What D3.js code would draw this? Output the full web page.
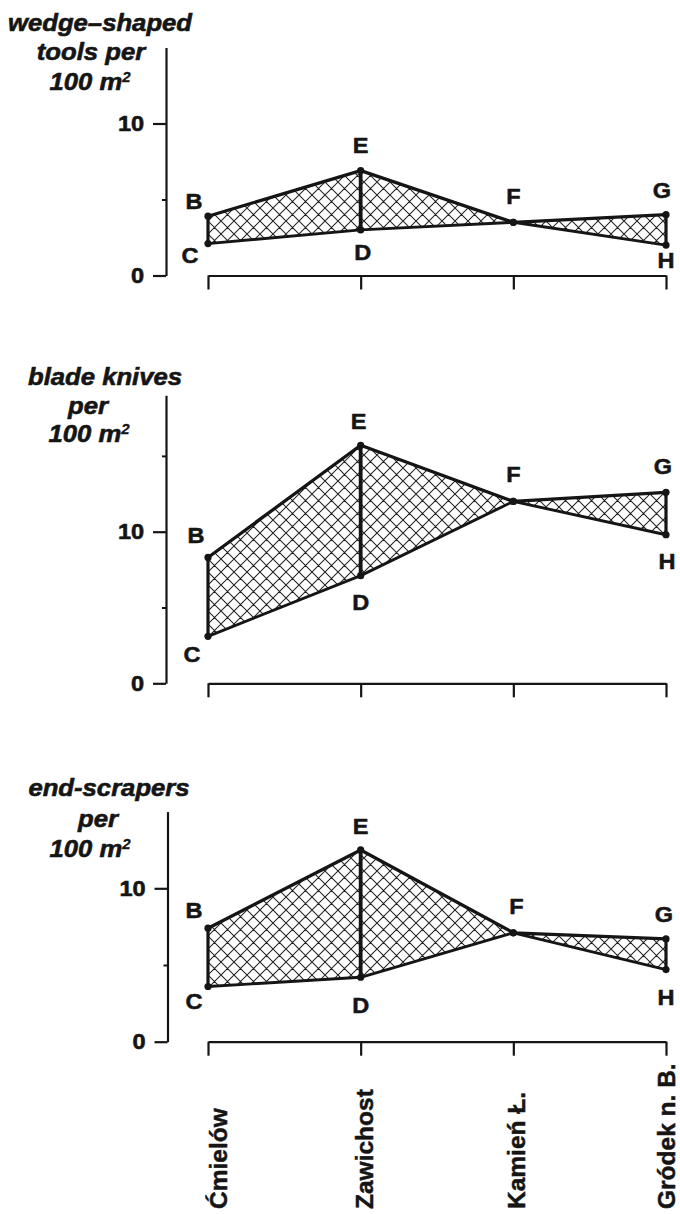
<!DOCTYPE html>
<html>
<head>
<meta charset="utf-8">
<script src="https://cdn.jsdelivr.net/npm/d3@7/dist/d3.min.js"></script>
<style>
  html, body { margin: 0; padding: 0; background: #fff; }
  svg { display: block; }
</style>
</head>
<body>
<div id="chart"></div>
<script>
// ---------------- data ----------------
const categories = ["Ćmielów", "Zawichost", "Kamień Ł.", "Gródek n. B."];

const upperLetters = ["B", "E", "F", "G"];
const lowerLetters = ["C", "D", "", "H"];

// wedge-shaped tools per 100 m2
const wedgeUpper = [3.9, 6.9, 3.5, 4.0];
const wedgeLower = [2.1, 3.0, 3.5, 2.0];
// blade knives per 100 m2
const knivesUpper = [8.3, 15.7, 12.0, 12.6];
const knivesLower = [3.1, 7.1, 12.0, 9.8];
// end-scrapers per 100 m2
const scrapersUpper = [7.4, 12.5, 7.1, 6.7];
const scrapersLower = [3.6, 4.2, 7.1, 4.7];

const wedgeTitle = ["wedge–shaped", "tools per", "100 m"];
const knivesTitle = ["blade knives", "per", "100 m"];
const scrapersTitle = ["end-scrapers", "per", "100 m"];

const majorTicks = [0, 10];
const minorTicks = [5, 15];

// ---------------- layout ----------------
const W = 680, H = 1214;
const FONT = "'Liberation Sans', Arial, Helvetica, sans-serif";
const SX = 1.07; // horizontal stretch of the original lettering
const INK = "#151515";

const panels = [
  { title: wedgeTitle, upper: wedgeUpper, lower: wedgeLower,
    zeroY: 275.5, max: 15, ppu: 15.2, axisX: 166,
    titleX: [100, 91, 90], titleY: [31, 60, 90],
    off: { B: [-14, -15], C: [-18, 12], E: [0, -25], D: [2, 22], F: [0, -26], G: [-4, -24], H: [0, 15] } },
  { title: knivesTitle, upper: knivesUpper, lower: knivesLower,
    zeroY: 683.3, max: 19, ppu: 15.16, axisX: 166,
    titleX: [105, 88, 89], titleY: [385, 414, 442],
    off: { B: [-12, -22], C: [-16, 18], E: [-2, -24], D: [0, 27], F: [0, -27], G: [-3, -26], H: [1, 27] } },
  { title: scrapersTitle, upper: scrapersUpper, lower: scrapersLower,
    zeroY: 1041.7, max: 15, ppu: 15.34, axisX: 167.5,
    titleX: [109, 98, 90], titleY: [796, 827, 857],
    off: { B: [-14, -18], C: [-14, 15], E: [0, -24], D: [0, 28], F: [3, -27], G: [-2, -25], H: [0, 28] } }
];

const svg = d3.select("#chart").append("svg")
  .attr("width", W).attr("height", H)
  .attr("viewBox", `0 0 ${W} ${H}`);

svg.append("rect").attr("width", W).attr("height", H).attr("fill", "#fff");

// cross-hatch pattern
const defs = svg.append("defs");
const P = 13;
const pat = defs.append("pattern")
  .attr("id", "xhatch")
  .attr("patternUnits", "userSpaceOnUse")
  .attr("width", P).attr("height", P);
pat.append("rect").attr("width", P).attr("height", P).attr("fill", "#fff");
pat.append("path")
  .attr("d", `M0,0L${P},${P}M${P},0L0,${P}M${-P/2},${P/2}L${P/2},${P*1.5}M${P/2},${-P/2}L${P*1.5},${P/2}M${P/2},${-P/2}L${-P/2},${P/2}M${P*1.5},${P/2}L${P/2},${P*1.5}`)
  .attr("stroke", "#222").attr("stroke-width", 1.05).attr("fill", "none");

const x = d3.scalePoint().domain(categories).range([208, 666]);

function inky(t, w) {
  return t.attr("stroke", INK).attr("stroke-width", w).attr("stroke-linejoin", "round")
    .attr("paint-order", "stroke");
}

function stretchedText(g, px, py, str, size, opts = {}) {
  const t = g.append("text")
    .attr("transform", `translate(${px},${py}) scale(${SX},1)`)
    .attr("font-family", FONT)
    .attr("font-weight", "bold")
    .attr("font-size", size)
    .attr("fill", INK)
    .attr("text-anchor", opts.anchor || "middle");
  if (opts.italic) t.attr("font-style", "italic");
  if (opts.central) t.attr("dominant-baseline", "central");
  inky(t, opts.ink || 0.5);
  t.text(str);
  return t;
}

panels.forEach(p => {
  const g = svg.append("g");
  const y = d3.scaleLinear()
    .domain([0, p.max])
    .range([p.zeroY, p.zeroY - p.max * p.ppu]);

  // ----- title -----
  p.title.forEach((line, i) => {
    const t = stretchedText(g, p.titleX[i], p.titleY[i], line, 24, { italic: true, ink: 0.6 });
    if (i === 2) {
      t.append("tspan").attr("font-size", 14).attr("dy", -8).attr("stroke-width", 0.3).text("2");
    }
  });

  // ----- y axis -----
  const yMajor = d3.axisLeft(y).tickValues(majorTicks).tickSize(13).tickSizeOuter(0).tickPadding(7.5);
  const ga = g.append("g").attr("transform", `translate(${p.axisX},0)`).call(yMajor);
  ga.select(".domain").attr("stroke", INK).attr("stroke-width", 2.2);
  ga.selectAll(".tick line").attr("stroke", INK).attr("stroke-width", 2.2);
  const tt = ga.selectAll(".tick text")
    .attr("font-family", FONT).attr("font-weight", "bold").attr("font-size", 22)
    .attr("fill", INK)
    .attr("transform", `scale(${SX},1)`);
  inky(tt, 0.6);

  const yMinor = d3.axisLeft(y).tickValues(minorTicks.filter(v => v < p.max)).tickSize(4).tickSizeOuter(0).tickFormat("");
  const gm = g.append("g").attr("transform", `translate(${p.axisX},0)`).call(yMinor);
  gm.select(".domain").remove();
  gm.selectAll(".tick line").attr("stroke", INK).attr("stroke-width", 2);

  // ----- x axis -----
  const xAxis = d3.axisBottom(x).tickSize(14).tickSizeOuter(0).tickFormat("");
  const gx = g.append("g").attr("transform", `translate(0,${y(0)})`).call(xAxis);
  gx.select(".domain").attr("stroke", INK).attr("stroke-width", 2.2);
  gx.selectAll(".tick line").attr("stroke", INK).attr("stroke-width", 2.2);

  // ----- data shape -----
  const up = categories.map((c, i) => [x(c), y(p.upper[i])]);
  const lo = categories.map((c, i) => [x(c), y(p.lower[i])]);
  const line = d3.line();

  g.append("path")
    .attr("d", line(up.concat(lo.slice().reverse())) + "Z")
    .attr("fill", "url(#xhatch)")
    .attr("stroke", "none");

  g.append("path").attr("d", line(up))
    .attr("fill", "none").attr("stroke", INK).attr("stroke-width", 3.3).attr("stroke-linejoin", "round");
  g.append("path").attr("d", line(lo))
    .attr("fill", "none").attr("stroke", INK).attr("stroke-width", 2.9).attr("stroke-linejoin", "round");

  categories.forEach((c, i) => {
    if (p.upper[i] !== p.lower[i]) {
      g.append("line")
        .attr("x1", x(c)).attr("x2", x(c))
        .attr("y1", y(p.upper[i])).attr("y2", y(p.lower[i]))
        .attr("stroke", INK).attr("stroke-width", i === 1 ? 3.8 : 3.2);
    }
  });

  const pts = up.map((d, i) => ({ pt: d, letter: upperLetters[i] }))
    .concat(lo.map((d, i) => ({ pt: d, letter: lowerLetters[i] })));

  pts.forEach(d => {
    g.append("circle").attr("cx", d.pt[0]).attr("cy", d.pt[1]).attr("r", 3.6).attr("fill", INK);
  });

  pts.filter(d => d.letter).forEach(d => {
    const o = p.off[d.letter];
    stretchedText(g, d.pt[0] + o[0], d.pt[1] + o[1], d.letter, 22, { central: true, ink: 0.5 });
  });
});

// ----- category labels (rotated) -----
const labelDx = [19, 12, 12, 9];
categories.forEach((c, i) => {
  const t = svg.append("text")
    .attr("transform", `translate(${x(c) + labelDx[i]},1209) rotate(-90)`)
    .attr("font-family", FONT)
    .attr("font-weight", "bold")
    .attr("font-size", 24.5)
    .attr("fill", INK)
    .attr("text-anchor", "start");
  inky(t, 0.5);
  t.text(c);
});
</script>
</body>
</html>
